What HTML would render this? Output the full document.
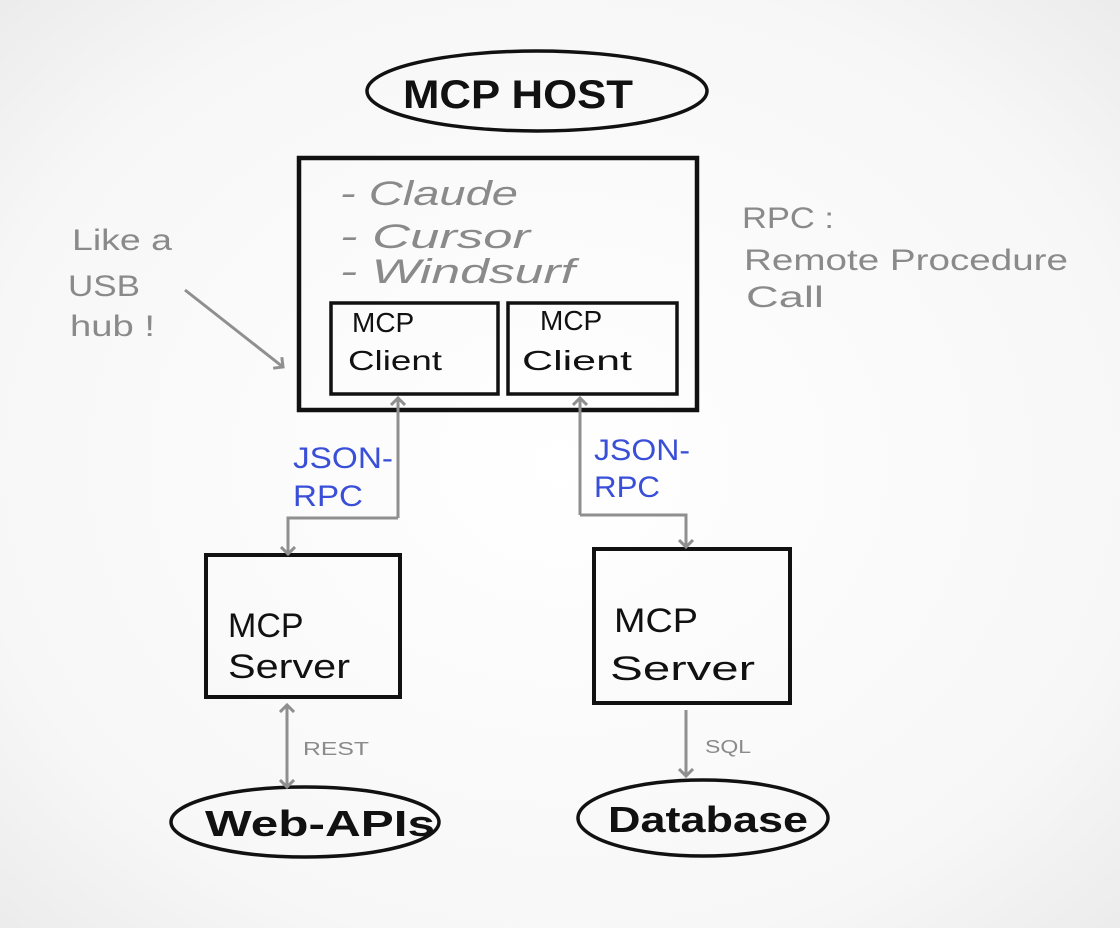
<!DOCTYPE html>
<html><head><meta charset="utf-8"><style>
html,body{margin:0;padding:0;width:1120px;height:928px;overflow:hidden;background:#f6f6f6}
svg{display:block}
text{font-family:"Liberation Sans",sans-serif}
</style></head><body>
<svg width="1120" height="928" viewBox="0 0 1120 928">
<defs>
<radialGradient id="bg" cx="50%" cy="50%" r="75%">
<stop offset="0" stop-color="#ffffff"/><stop offset="0.7" stop-color="#f7f7f7"/><stop offset="1" stop-color="#e9e9e9"/>
</radialGradient>
<marker id="ah" markerWidth="16" markerHeight="16" refX="8" refY="8" orient="auto" markerUnits="userSpaceOnUse" viewBox="0 0 16 16">
<path d="M1,1 L8,8 L1,15" fill="none" stroke="#8f8f8f" stroke-width="3"/>
</marker>
</defs>
<rect width="1120" height="928" fill="url(#bg)"/>
<g fill="none" stroke="#111" stroke-width="3.5">
<ellipse cx="537" cy="91" rx="170" ry="40"/>
<rect x="299" y="158" width="398" height="252" stroke-width="4.5"/>
<rect x="331" y="303" width="167" height="91"/>
<rect x="508" y="303" width="169" height="91"/>
<rect x="206" y="555" width="194" height="142" stroke-width="4"/>
<rect x="594" y="549" width="196" height="154" stroke-width="4"/>
<ellipse cx="305" cy="822" rx="134" ry="35"/>
<ellipse cx="703" cy="818" rx="125" ry="38"/>
</g>
<g fill="none" stroke="#8f8f8f" stroke-width="3">
<path d="M398,518 L398,398" marker-end="url(#ah)"/>
<path d="M398,518 L288,518 L288,554" marker-end="url(#ah)"/>
<path d="M580,515 L580,398" marker-end="url(#ah)"/>
<path d="M580,515 L686,515 L686,547" marker-end="url(#ah)"/>
<path d="M287,745 L287,705" marker-end="url(#ah)"/>
<path d="M287,745 L287,787" marker-end="url(#ah)"/>
<path d="M686,710 L686,776" marker-end="url(#ah)"/>
<path d="M185,290 L283,367" marker-end="url(#ah)"/>
</g>
<g font-size="40" font-weight="bold" fill="#111">
<text x="403" y="108" textLength="230" lengthAdjust="spacingAndGlyphs">MCP HOST</text>
</g>
<g font-size="34" fill="#8a8a8a" font-style="italic">
<text x="340" y="205" textLength="178" lengthAdjust="spacingAndGlyphs">- Claude</text>
<text x="340" y="248" textLength="190" lengthAdjust="spacingAndGlyphs">- Cursor</text>
<text x="340" y="283" textLength="235" lengthAdjust="spacingAndGlyphs">- Windsurf</text>
</g>
<g font-size="28" fill="#111">
<text x="352" y="332">MCP</text><text x="348" y="370" textLength="94" lengthAdjust="spacingAndGlyphs">Client</text>
<text x="540" y="330">MCP</text><text x="522" y="370" textLength="110" lengthAdjust="spacingAndGlyphs">Client</text>
</g>
<g font-size="34" fill="#111">
<text x="228" y="637">MCP</text><text x="228" y="678" textLength="122" lengthAdjust="spacingAndGlyphs">Server</text>
<text x="614" y="632" textLength="84" lengthAdjust="spacingAndGlyphs">MCP</text><text x="610" y="680" textLength="145" lengthAdjust="spacingAndGlyphs">Server</text>
</g>
<g font-size="36" font-weight="bold" fill="#111">
<text x="205" y="836" textLength="230" lengthAdjust="spacingAndGlyphs">Web-APIs</text>
<text x="608" y="832" textLength="200" lengthAdjust="spacingAndGlyphs">Database</text>
</g>
<g font-size="30" fill="#8a8a8a">
<text x="72" y="250" textLength="100" lengthAdjust="spacingAndGlyphs">Like a</text>
<text x="68" y="296" textLength="72" lengthAdjust="spacingAndGlyphs">USB</text>
<text x="70" y="336" textLength="85" lengthAdjust="spacingAndGlyphs">hub !</text>
<text x="742" y="228" textLength="92" lengthAdjust="spacingAndGlyphs">RPC :</text>
<text x="744" y="270" textLength="324" lengthAdjust="spacingAndGlyphs">Remote Procedure</text>
<text x="746" y="307" textLength="78" lengthAdjust="spacingAndGlyphs">Call</text>
</g>
<g font-size="18" fill="#8a8a8a">
<text x="303" y="755" textLength="66" lengthAdjust="spacingAndGlyphs">REST</text>
<text x="705" y="753" textLength="46" lengthAdjust="spacingAndGlyphs">SQL</text>
</g>
<g font-size="30" fill="#3a4fd8">
<text x="293" y="468" textLength="100" lengthAdjust="spacingAndGlyphs">JSON-</text><text x="293" y="506" textLength="70" lengthAdjust="spacingAndGlyphs">RPC</text>
<text x="594" y="460" textLength="96" lengthAdjust="spacingAndGlyphs">JSON-</text><text x="594" y="497" textLength="66" lengthAdjust="spacingAndGlyphs">RPC</text>
</g>
</svg>
</body></html>
